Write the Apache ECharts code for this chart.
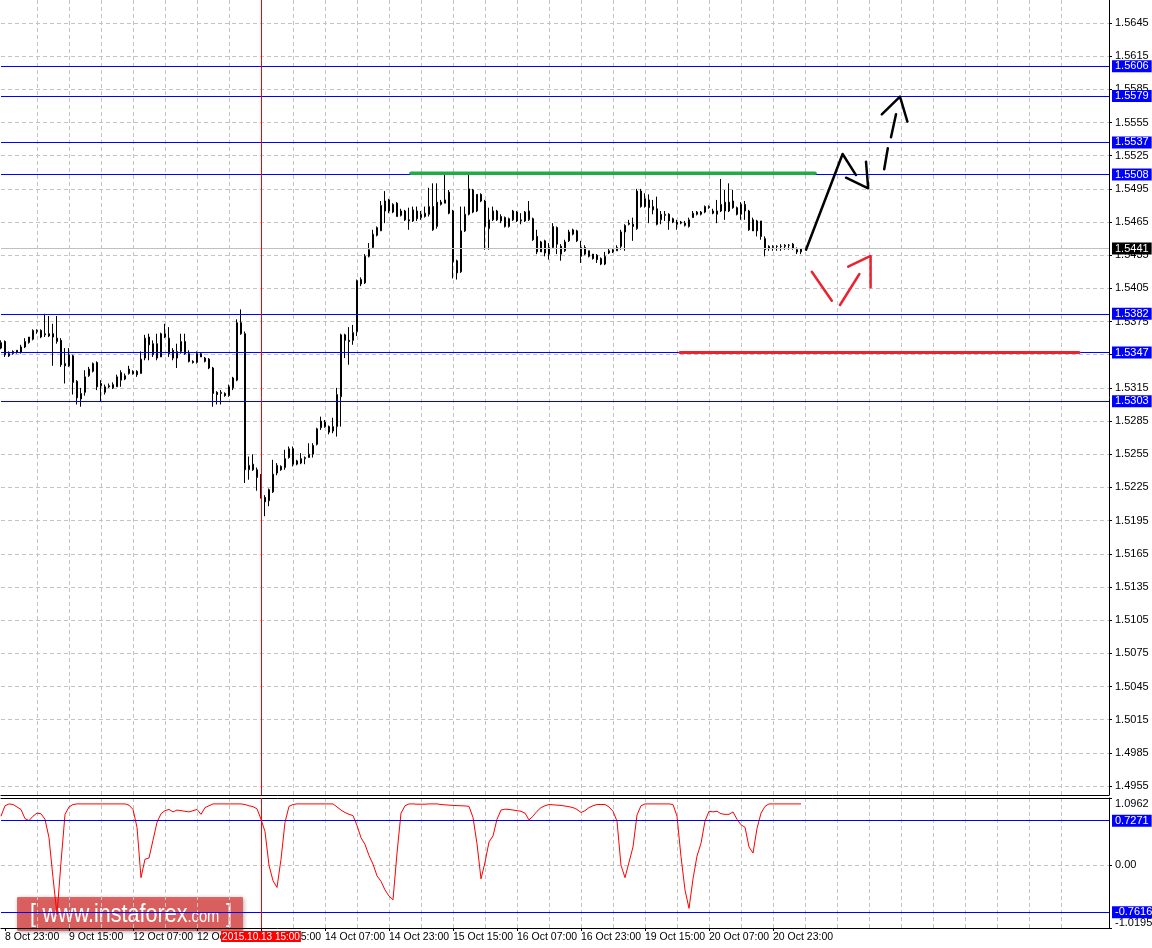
<!DOCTYPE html>
<html>
<head>
<meta charset="utf-8">
<title>GBPUSD H1</title>
<script src="https://cdn.jsdelivr.net/npm/echarts@6.0.0/dist/echarts.min.js"></script>
<style>
  html, body { margin: 0; padding: 0; background: #fff; }
  #chart { width: 1152px; height: 948px; }
</style>
</head>
<body>
<div id="chart"></div>
<script>
// price axis ticks (right scale) and indicator scale
const priceTicks = [1.4955, 1.4985, 1.5015, 1.5045, 1.5075, 1.5105, 1.5135, 1.5165, 1.5195, 1.5225, 1.5255, 1.5285,
  1.5315, 1.5345, 1.5375, 1.5405, 1.5435, 1.5465, 1.5495, 1.5525, 1.5555, 1.5585, 1.5615, 1.5645];
const indicatorTicks = [-1.0195, 0, 1.0962];

// horizontal levels drawn on the chart
const levels = [1.5606, 1.5579, 1.5537, 1.5508, 1.5382, 1.5347, 1.5303];
const lastPrice = 1.5441;
const indicatorLevels = [0.7271, -0.7616];
const crossLabel = '2015.10.13 15:00';
const crossIndex = 65;

// H1 candles [open, high, low, close], first bar = 8 Oct 22:00
const ohlc = [
  [1.5351,1.5358,1.5350,1.5356],[1.5357,1.5358,1.5343,1.5345],[1.5344,1.5348,1.5343,1.5346],[1.5346,1.5349,1.5345,1.5348],
  [1.5349,1.5349,1.5346,1.5347],[1.5347,1.5354,1.5346,1.5352],[1.5352,1.5360,1.5351,1.5357],[1.5356,1.5361,1.5355,1.5361],
  [1.5359,1.5368,1.5358,1.5367],[1.5366,1.5368,1.5364,1.5367],[1.5367,1.5368,1.5360,1.5361],[1.5363,1.5382,1.5361,1.5364],
  [1.5364,1.5380,1.5361,1.5362],[1.5364,1.5373,1.5335,1.5361],[1.5357,1.5380,1.5355,1.5360],[1.5358,1.5360,1.5334,1.5336],
  [1.5337,1.5351,1.5319,1.5335],[1.5335,1.5351,1.5334,1.5345],[1.5344,1.5345,1.5309,1.5320],[1.5321,1.5322,1.5300,1.5306],
  [1.5305,1.5315,1.5298,1.5310],[1.5311,1.5331,1.5308,1.5325],[1.5326,1.5334,1.5325,1.5332],[1.5330,1.5338,1.5329,1.5337],
  [1.5338,1.5339,1.5313,1.5316],[1.5319,1.5322,1.5303,1.5317],[1.5311,1.5318,1.5309,1.5316],[1.5316,1.5319,1.5315,1.5317],
  [1.5315,1.5320,1.5314,1.5318],[1.5316,1.5327,1.5316,1.5325],[1.5322,1.5331,1.5316,1.5329],[1.5323,1.5328,1.5322,1.5326],
  [1.5328,1.5335,1.5327,1.5332],[1.5330,1.5331,1.5327,1.5328],[1.5330,1.5331,1.5325,1.5327],[1.5328,1.5348,1.5328,1.5341],
  [1.5342,1.5363,1.5340,1.5360],[1.5361,1.5364,1.5340,1.5354],[1.5345,1.5358,1.5343,1.5355],[1.5355,1.5364,1.5340,1.5342],
  [1.5343,1.5365,1.5343,1.5364],[1.5364,1.5373,1.5360,1.5361],[1.5360,1.5370,1.5343,1.5346],[1.5349,1.5351,1.5340,1.5342],
  [1.5342,1.5355,1.5333,1.5348],[1.5348,1.5364,1.5346,1.5357],[1.5357,1.5364,1.5345,1.5346],[1.5346,1.5349,1.5338,1.5339],
  [1.5339,1.5340,1.5337,1.5338],[1.5338,1.5348,1.5337,1.5346],[1.5343,1.5347,1.5343,1.5346],[1.5342,1.5343,1.5338,1.5339],
  [1.5341,1.5342,1.5332,1.5333],[1.5333,1.5334,1.5298,1.5310],[1.5311,1.5312,1.5300,1.5309],[1.5310,1.5313,1.5300,1.5311],
  [1.5310,1.5311,1.5307,1.5308],[1.5308,1.5318,1.5307,1.5316],[1.5315,1.5325,1.5313,1.5324],[1.5322,1.5377,1.5321,1.5374],
  [1.5374,1.5386,1.5363,1.5364],[1.5364,1.5366,1.5229,1.5241],[1.5241,1.5253,1.5232,1.5245],[1.5246,1.5255,1.5240,1.5241],
  [1.5241,1.5243,1.5222,1.5234],[1.5236,1.5237,1.5215,1.5217],[1.5216,1.5218,1.5199,1.5212],[1.5213,1.5224,1.5208,1.5223],
  [1.5221,1.5250,1.5220,1.5237],[1.5238,1.5247,1.5236,1.5245],[1.5244,1.5245,1.5240,1.5241],[1.5243,1.5259,1.5241,1.5251],
  [1.5252,1.5262,1.5251,1.5260],[1.5260,1.5262,1.5244,1.5246],[1.5246,1.5250,1.5245,1.5249],[1.5247,1.5256,1.5246,1.5251],
  [1.5251,1.5253,1.5246,1.5252],[1.5252,1.5265,1.5252,1.5255],[1.5255,1.5265,1.5252,1.5263],[1.5264,1.5279,1.5263,1.5278],
  [1.5279,1.5289,1.5277,1.5285],[1.5284,1.5286,1.5279,1.5280],[1.5280,1.5281,1.5273,1.5275],[1.5276,1.5288,1.5274,1.5280],
  [1.5280,1.5315,1.5271,1.5309],[1.5307,1.5364,1.5280,1.5363],[1.5363,1.5364,1.5342,1.5358],[1.5358,1.5370,1.5336,1.5357],
  [1.5358,1.5372,1.5354,1.5365],[1.5366,1.5413,1.5362,1.5412],[1.5413,1.5415,1.5407,1.5409],[1.5410,1.5436,1.5409,1.5434],
  [1.5434,1.5446,1.5433,1.5440],[1.5442,1.5458,1.5441,1.5454],[1.5453,1.5461,1.5452,1.5460],[1.5457,1.5484,1.5457,1.5480],
  [1.5484,1.5493,1.5464,1.5475],[1.5485,1.5486,1.5473,1.5475],[1.5474,1.5482,1.5473,1.5481],[1.5482,1.5483,1.5470,1.5470],
  [1.5471,1.5477,1.5470,1.5475],[1.5475,1.5476,1.5466,1.5467],[1.5467,1.5478,1.5458,1.5466],[1.5466,1.5479,1.5465,1.5476],
  [1.5475,1.5479,1.5466,1.5468],[1.5469,1.5475,1.5467,1.5472],[1.5470,1.5479,1.5469,1.5473],[1.5472,1.5496,1.5470,1.5479],
  [1.5479,1.5500,1.5457,1.5458],[1.5461,1.5500,1.5459,1.5483],[1.5481,1.5485,1.5480,1.5483],[1.5482,1.5508,1.5482,1.5485],
  [1.5492,1.5494,1.5472,1.5473],[1.5475,1.5476,1.5414,1.5429],[1.5430,1.5431,1.5413,1.5419],[1.5420,1.5479,1.5419,1.5457],
  [1.5457,1.5479,1.5456,1.5472],[1.5472,1.5508,1.5471,1.5495],[1.5494,1.5495,1.5473,1.5474],[1.5490,1.5490,1.5474,1.5475],
  [1.5490,1.5491,1.5483,1.5484],[1.5484,1.5485,1.5440,1.5461],[1.5459,1.5478,1.5440,1.5467],[1.5467,1.5479,1.5466,1.5475],
  [1.5475,1.5476,1.5466,1.5467],[1.5470,1.5472,1.5464,1.5466],[1.5469,1.5470,1.5460,1.5461],[1.5461,1.5469,1.5460,1.5468],
  [1.5467,1.5476,1.5466,1.5475],[1.5474,1.5475,1.5465,1.5466],[1.5466,1.5473,1.5463,1.5467],[1.5466,1.5475,1.5465,1.5474],
  [1.5467,1.5484,1.5466,1.5475],[1.5468,1.5469,1.5448,1.5449],[1.5452,1.5458,1.5436,1.5438],[1.5447,1.5448,1.5438,1.5438],
  [1.5448,1.5449,1.5434,1.5437],[1.5436,1.5446,1.5431,1.5442],[1.5442,1.5464,1.5441,1.5461],[1.5460,1.5461,1.5436,1.5445],
  [1.5443,1.5445,1.5430,1.5436],[1.5439,1.5449,1.5438,1.5447],[1.5448,1.5458,1.5447,1.5456],[1.5454,1.5459,1.5453,1.5458],
  [1.5457,1.5458,1.5447,1.5448],[1.5442,1.5448,1.5428,1.5434],[1.5442,1.5444,1.5435,1.5436],[1.5439,1.5439,1.5433,1.5434],
  [1.5436,1.5436,1.5431,1.5432],[1.5435,1.5436,1.5428,1.5431],[1.5432,1.5433,1.5426,1.5427],[1.5427,1.5438,1.5426,1.5434],
  [1.5437,1.5441,1.5436,1.5439],[1.5438,1.5441,1.5437,1.5440],[1.5439,1.5444,1.5439,1.5442],[1.5443,1.5458,1.5440,1.5456],
  [1.5456,1.5463,1.5439,1.5462],[1.5464,1.5467,1.5462,1.5463],[1.5463,1.5469,1.5448,1.5461],[1.5459,1.5495,1.5458,1.5493],
  [1.5493,1.5495,1.5478,1.5479],[1.5486,1.5491,1.5478,1.5479],[1.5485,1.5490,1.5464,1.5478],[1.5476,1.5485,1.5472,1.5479],
  [1.5477,1.5488,1.5462,1.5463],[1.5467,1.5475,1.5463,1.5472],[1.5471,1.5475,1.5466,1.5472],[1.5472,1.5473,1.5458,1.5466],
  [1.5468,1.5469,1.5464,1.5465],[1.5465,1.5467,1.5458,1.5463],[1.5464,1.5466,1.5463,1.5465],[1.5464,1.5466,1.5461,1.5462],
  [1.5461,1.5469,1.5460,1.5467],[1.5469,1.5475,1.5469,1.5473],[1.5472,1.5475,1.5471,1.5474],[1.5472,1.5475,1.5471,1.5474],
  [1.5474,1.5480,1.5473,1.5479],[1.5478,1.5480,1.5477,1.5479],[1.5475,1.5477,1.5472,1.5473],[1.5472,1.5485,1.5464,1.5475],
  [1.5475,1.5504,1.5474,1.5481],[1.5475,1.5494,1.5467,1.5483],[1.5483,1.5500,1.5474,1.5475],[1.5484,1.5494,1.5477,1.5478],
  [1.5478,1.5479,1.5471,1.5472],[1.5472,1.5483,1.5467,1.5481],[1.5475,1.5484,1.5467,1.5481],[1.5475,1.5476,1.5457,1.5458],
  [1.5467,1.5469,1.5457,1.5457],[1.5457,1.5467,1.5452,1.5466],[1.5466,1.5466,1.5449,1.5452],[1.5450,1.5452,1.5434,1.5440],
  [1.5441,1.5444,1.5439,1.5443],[1.5442,1.5444,1.5439,1.5443],[1.5443,1.5444,1.5439,1.5443],[1.5443,1.5445,1.5439,1.5443],
  [1.5443,1.5445,1.5440,1.5444],[1.5444,1.5445,1.5440,1.5444],[1.5445,1.5446,1.5440,1.5441],[1.5440,1.5442,1.5436,1.5438],
  [1.5438,1.5441,1.5436,1.5441]
];

// lower oscillator, one value per bar
const oscillator = [
  0.80, 0.97, 1.00, 0.99, 0.95, 0.91, 0.76, 0.73, 0.80, 0.85, 0.84, 0.75, 0.45, -0.20, -0.80, 0.05, 0.83, 0.95, 0.99,
  1.00, 1.00, 1.00, 1.00, 1.00, 1.00, 1.00, 1.00, 1.00, 1.00, 1.00, 1.00, 1.00, 0.98, 0.91, 0.62, -0.20, 0.10, 0.12,
  0.41, 0.70, 0.84, 0.89, 0.91, 0.87, 0.90, 0.89, 0.88, 0.87, 0.89, 0.91, 0.83, 0.94, 0.97, 1.00, 1.00, 1.00, 1.00,
  1.00, 1.00, 1.00, 1.00, 0.99, 0.97, 0.955, 0.92, 0.75, 0.55, 0.00, -0.25, -0.36, 0.10, 0.70, 0.96, 0.99, 1.00, 1.00,
  1.00, 1.00, 1.00, 1.00, 1.00, 1.00, 1.00, 1.00, 0.95, 0.90, 0.86, 0.83, 0.81, 0.65, 0.45, 0.34, 0.16, 0.02, -0.17,
  -0.26, -0.40, -0.50, -0.56, 0.20, 0.85, 0.97, 1.00, 1.00, 0.995, 0.995, 0.995, 1.00, 1.00, 1.00, 0.99, 0.985, 0.98,
  0.976, 0.972, 0.97, 0.967, 0.96, 0.78, 0.35, -0.22, 0.05, 0.38, 0.48, 0.75, 0.90, 0.915, 0.91, 0.90, 0.89, 0.88,
  0.85, 0.74, 0.80, 0.88, 0.94, 0.97, 0.99, 0.985, 0.98, 0.975, 0.965, 0.955, 0.94, 0.91, 0.86, 0.89, 0.94, 0.97,
  0.99, 0.99, 0.99, 0.95, 0.88, 0.72, 0.00, -0.20, 0.05, 0.30, 0.82, 0.97, 1.00, 1.00, 1.00, 1.00, 1.00, 1.00, 1.00,
  0.99, 0.80, 0.14, -0.40, -0.70, -0.22, 0.15, 0.36, 0.72, 0.88, 0.87, 0.88, 0.84, 0.83, 0.83, 0.87, 0.75, 0.66, 0.62,
  0.30, 0.20, 0.60, 0.85, 0.96, 1.00, 1.00, 1.00, 1.00, 1.00, 1.00, 1.00, 1.00, 1.00
];

// hand-drawn annotations, [bar position, price]
const greenLevel = [[102.5, 1.55091], [203.5, 1.55091]];
const redLevel = [[169.75, 1.5347], [269.5, 1.5347]];
const blackStroke = [[201.25, 1.5440], [210.4, 1.55265], [213.75, 1.55075]];
const blackHead = [[211.25, 1.55051], [216.8, 1.54955], [216.25, 1.55196]];
const dashStroke1 = [[220.8, 1.55127], [221.7, 1.55317]];
const dashStroke2 = [[222.5, 1.55416], [223.75, 1.55624]];
const dashHead = [[220.2, 1.55624], [224.75, 1.55784], [226.6, 1.55559]];
const redStroke1 = [[202.7, 1.54201], [207.7, 1.53939]];
const redStroke2 = [[209.75, 1.53900], [214.6, 1.54180]];
const redHead = [[211.8, 1.54246], [217.4, 1.54343], [217.4, 1.54060]];

const BAR_SLOTS = 278;
const FONT = "'Liberation Sans', Arial, sans-serif";
const MONTHS = ['Jan','Feb','Mar','Apr','May','Jun','Jul','Aug','Sep','Oct','Nov','Dec'];

// hourly time axis, weekends skipped
const timeLabels = [];
let t = Date.UTC(2015, 9, 8, 22);
while (timeLabels.length < BAR_SLOTS) {
  const d = new Date(t);
  const wd = d.getUTCDay();
  if (wd !== 0 && wd !== 6) {
    timeLabels.push(d.getUTCDate() + ' ' + MONTHS[d.getUTCMonth()] + ' ' + String(d.getUTCHours()).padStart(2, '0') + ':00');
  }
  t += 3600000;
}

const gridDash = { color: '#c4c4c4', width: 1, type: [4, 3] };
const isGridBar = (i) => i % 8 === 1;
const isLabelBar = (i) => i % 16 === 1 && i <= ohlc.length - 8;

const chart = echarts.init(document.getElementById('chart'));

function boxLabel(bg) {
  return {
    show: true, position: 'end', distance: 3,
    formatter: (p) => p.value.toFixed(4),
    color: '#ffffff', backgroundColor: bg, padding: [1, 3, 0, 3],
    fontSize: 11, fontFamily: FONT
  };
}

function stroke(data, color, width, z) {
  return {
    type: 'line', xAxisIndex: 2, yAxisIndex: 0, data: data,
    symbol: 'none', silent: true, animation: false, z: z || 5,
    lineStyle: { color: color, width: width, cap: 'round', join: 'round' }
  };
}

const plainLine = { show: true, onZero: false, lineStyle: { color: '#000', width: 1 } };
const xSplit = { show: true, interval: isGridBar, showMinLine: false, showMaxLine: false, lineStyle: gridDash };

const option = {
  animation: false,
  backgroundColor: '#ffffff',
  grid: [
    { left: 1, top: 0, width: 1108, height: 795, outerBoundsMode: 'none' },
    { left: 1, top: 798, width: 1108, height: 130, outerBoundsMode: 'none' }
  ],
  xAxis: [
    {
      type: 'category', gridIndex: 0, data: timeLabels, boundaryGap: false,
      axisLine: plainLine,
      axisTick: { show: false }, axisLabel: { show: false },
      splitLine: xSplit
    },
    {
      type: 'category', gridIndex: 1, data: timeLabels, boundaryGap: false,
      axisLine: plainLine,
      axisTick: { show: true, interval: isLabelBar, length: 3, lineStyle: { color: '#000' } },
      axisLabel: {
        show: true, interval: isLabelBar, align: 'left', margin: 4,
        color: '#000', fontSize: 10.5, fontFamily: FONT
      },
      splitLine: xSplit
    },
    { type: 'value', gridIndex: 0, min: 0, max: BAR_SLOTS - 1, show: false },
    {
      type: 'category', gridIndex: 1, data: timeLabels, boundaryGap: false, position: 'top',
      axisLine: plainLine,
      axisTick: { show: false }, axisLabel: { show: false }, splitLine: { show: false }
    }
  ],
  yAxis: [
    {
      type: 'value', gridIndex: 0, position: 'right',
      min: 1.494686, max: 1.56658, scale: true,
      axisLine: plainLine,
      axisTick: { show: true, length: 3, customValues: priceTicks, lineStyle: { color: '#000' } },
      axisLabel: {
        show: true, customValues: priceTicks, margin: 6,
        formatter: (v) => v.toFixed(4), color: '#000', fontSize: 11, fontFamily: FONT
      },
      splitLine: { show: true, lineStyle: gridDash }
    },
    {
      type: 'value', gridIndex: 1, position: 'right',
      min: -1.0195, max: 1.0962,
      axisLine: plainLine,
      axisTick: { show: true, length: 3, customValues: indicatorTicks, lineStyle: { color: '#000' } },
      axisLabel: {
        show: true, customValues: indicatorTicks, margin: 6,
        verticalAlignMinLabel: 'bottom', verticalAlignMaxLabel: 'top',
        formatter: (v) => (v === 0 ? '0.00' : v.toFixed(4)), color: '#000', fontSize: 11, fontFamily: FONT
      },
      splitLine: { show: true, showMinLine: false, showMaxLine: false, lineStyle: gridDash }
    }
  ],
  series: [
    {
      type: 'candlestick', xAxisIndex: 0, yAxisIndex: 0,
      data: ohlc.map((r) => [r[0], r[3], r[2], r[1]]),
      barWidth: 2, silent: true, z: 3,
      itemStyle: {
        color: '#ffffff', color0: '#000000',
        borderColor: '#000000', borderColor0: '#000000', borderColorDoji: '#000000', borderWidth: 1
      },
      markLine: {
        symbol: ['none', 'none'], silent: true, animation: false, precision: 4,
        lineStyle: { color: '#0000ff', width: 1, type: 'solid' },
        label: boxLabel('#0000ff'),
        data: levels.map((v) => ({ yAxis: v })).concat([
          { yAxis: lastPrice, lineStyle: { color: '#c0c0c0', width: 1, type: 'solid' }, label: boxLabel('#000000') },
          { xAxis: crossIndex, lineStyle: { color: '#ff0000', width: 1, type: 'solid' }, label: { show: false } }
        ])
      }
    },
    {
      type: 'line', xAxisIndex: 1, yAxisIndex: 1, data: oscillator,
      symbol: 'none', silent: true, z: 3,
      lineStyle: { color: '#ff0000', width: 1 },
      markLine: {
        symbol: ['none', 'none'], silent: true, animation: false, precision: 4,
        lineStyle: { color: '#0000ff', width: 1, type: 'solid' },
        label: boxLabel('#0000ff'),
        data: indicatorLevels.map((v) => ({ yAxis: v })).concat([
          {
            xAxis: crossIndex, lineStyle: { color: '#ff0000', width: 1, type: 'solid' },
            label: {
              show: true, position: 'start', distance: 3, formatter: crossLabel,
              color: '#ffffff', backgroundColor: '#ff0000', padding: [1, 1, 0, 1],
              fontSize: 10, fontFamily: FONT
            }
          }
        ])
      }
    },
    stroke(greenLevel, '#22aa48', 3.5),
    stroke(redLevel, '#ea2330', 3),
    stroke(blackStroke, '#000000', 2.5),
    stroke(blackHead, '#000000', 2.5),
    stroke(dashStroke1, '#000000', 2.5),
    stroke(dashStroke2, '#000000', 2.5),
    stroke(dashHead, '#000000', 2.5),
    stroke(redStroke1, '#ea2330', 2.5),
    stroke(redStroke2, '#ea2330', 2.5),
    stroke(redHead, '#ea2330', 2.5)
  ],
  graphic: [
    {
      type: 'group', left: 17, top: 897, z: 100,
      children: [
        {
          type: 'rect', shape: { x: 0, y: 0, width: 226, height: 34, r: 1 },
          style: {
            fill: 'rgba(222,82,82,0.88)', shadowBlur: 4, shadowColor: 'rgba(0,0,0,0.35)',
            shadowOffsetX: 1, shadowOffsetY: 1
          }
        },
        {
          type: 'text', x: 13, y: 18, scaleX: 0.98, scaleY: 1.2,
          style: {
            text: '{b|[}  {w|www.instaforex}{c|.com}  {b|]}',
            verticalAlign: 'middle',
            rich: {
              b: { fontSize: 22, fill: '#ffffff', fontFamily: FONT },
              w: { fontSize: 22, fill: '#ffffff', fontFamily: FONT },
              c: { fontSize: 15, fill: '#ffffff', fontFamily: FONT, verticalAlign: 'bottom', padding: [0, 0, 2, 0] }
            }
          }
        }
      ]
    }
  ]
};

chart.setOption(option);
</script>
</body>
</html>
